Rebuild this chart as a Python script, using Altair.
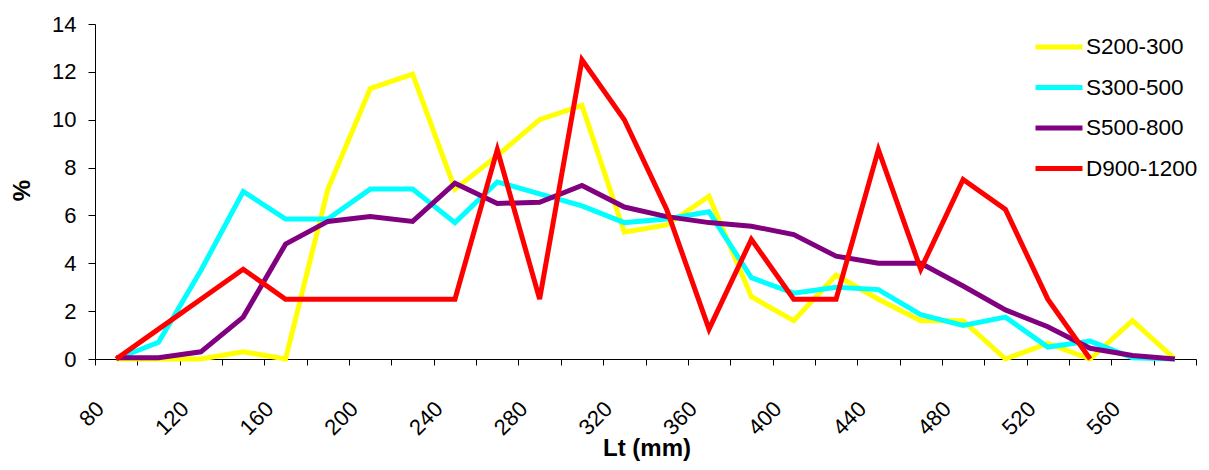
import altair as alt
import pandas as pd

# Category axis (Lt, mm) — each value is the centre of a 20 mm class
lt_mm = [80, 100, 120, 140, 160, 180, 200, 220, 240, 260, 280, 300, 320,
         340, 360, 380, 400, 420, 440, 460, 480, 500, 520, 540, 560, 580]

series_names = ["S200-300", "S300-500", "S500-800", "D900-1200"]
series_colors = ["#FFFF00", "#00FFFF", "#800080", "#FF0000"]

s200_300 = [0, 0, 0, 0.3, 0, 7.1, 11.3, 11.9, 7.1, 8.5, 10.0, 10.6, 5.3,
            5.6, 6.8, 2.6, 1.6, 3.5, 2.5, 1.6, 1.6, 0, 0.65, 0, 1.6, 0]
s300_500 = [0, 0.7, 3.7, 7.0, 5.85, 5.85, 7.1, 7.1, 5.7, 7.4, 6.9, 6.4, 5.7,
            5.85, 6.15, 3.4, 2.75, 3.0, 2.9, 1.85, 1.4, 1.75, 0.5, 0.75, 0.05, 0]
s500_800 = [0.05, 0.05, 0.3, 1.75, 4.8, 5.75, 5.95, 5.75, 7.35, 6.5, 6.55, 7.25, 6.35,
            5.95, 5.7, 5.55, 5.2, 4.3, 4.0, 4.0, 3.05, 2.05, 1.35, 0.45, 0.15, 0]
d900_1200 = [0, 1.25, 2.5, 3.75, 2.5, 2.5, 2.5, 2.5, 2.5, 8.75, 2.5, 12.5, 10.0,
             6.25, 1.25, 5.0, 2.5, 2.5, 8.75, 3.75, 7.5, 6.25, 2.5, 0]

x_tick_labels = [80, 120, 160, 200, 240, 280, 320, 360, 400, 440, 480, 520, 560]
y_ticks = [0, 2, 4, 6, 8, 10, 12, 14]

rows = []
for name, vals in zip(series_names, [s200_300, s300_500, s500_800, d900_1200]):
    for lt, v in zip(lt_mm, vals):
        rows.append({"series": name, "Lt": lt, "pct": v})
df = pd.DataFrame(rows)

W, H = 1101, 335
FONT = "Liberation Sans"

# class boundaries carry the tick marks; labels belong to class centres
x_bounds = [lt - 10 for lt in lt_mm] + [lt_mm[-1] + 10]
label_list = "[" + ",".join(str(v) for v in x_tick_labels) + "]"
label_expr = f"indexof({label_list}, datum.value + 10) >= 0 ? '' + (datum.value + 10) : ''"

x_axis = alt.Axis(
    values=x_bounds, labelExpr=label_expr, labelAngle=-45, labelAlign="right",
    labelBaseline="middle", labelPadding=40, labelOffset=5, labelOverlap=False,
    labelFlush=False, labelBound=False, labelFontSize=22, labelFont=FONT,
    labelColor="black", tickSize=6, tickColor="black", domainColor="black",
    grid=False, title="Lt (mm)", titleFont=FONT, titleFontSize=24,
    titleFontWeight="bold", titleColor="black", titleBaseline="alphabetic",
    titleY=96, titleX=W / 2 + 1,
)
y_axis = alt.Axis(
    values=y_ticks, labelFontSize=22, labelFont=FONT, labelColor="black",
    labelPadding=12, tickSize=7, tickColor="black", domainColor="black",
    grid=False, title="%", titleFont=FONT, titleFontSize=24,
    titleFontWeight="bold", titleColor="black", titleAngle=270,
    titleBaseline="alphabetic", titleAlign="center", titleX=-66, titleY=166,
)

legend = alt.Legend(
    title=None, orient="none", legendX=938, legendY=-3, symbolType="stroke",
    symbolStrokeWidth=5, symbolSize=2209, labelFontSize=22.5, labelFont=FONT,
    labelColor="black", labelOffset=1, padding=0, rowPadding=2.5,
)

color = alt.Color("series:N", scale=alt.Scale(domain=series_names, range=series_colors),
                  legend=legend)

base = alt.Chart(df).mark_line(strokeWidth=5).encode(
    x=alt.X("Lt:Q", scale=alt.Scale(domain=[70, 590], nice=False, zero=False), axis=x_axis),
    y=alt.Y("pct:Q", scale=alt.Scale(domain=[0, 14], nice=False), axis=y_axis),
    color=color,
)

layers = [base.transform_filter(alt.datum.series == s) for s in series_names]

chart = alt.layer(*layers).properties(
    width=W, height=H,
    autosize=alt.AutoSizeParams(type="none"),
    padding={"left": 87, "top": 16, "right": 5, "bottom": 103},
    background="white",
).configure_view(stroke=None)

chart.save("out.html", embed_options={"renderer": "svg", "actions": False})
